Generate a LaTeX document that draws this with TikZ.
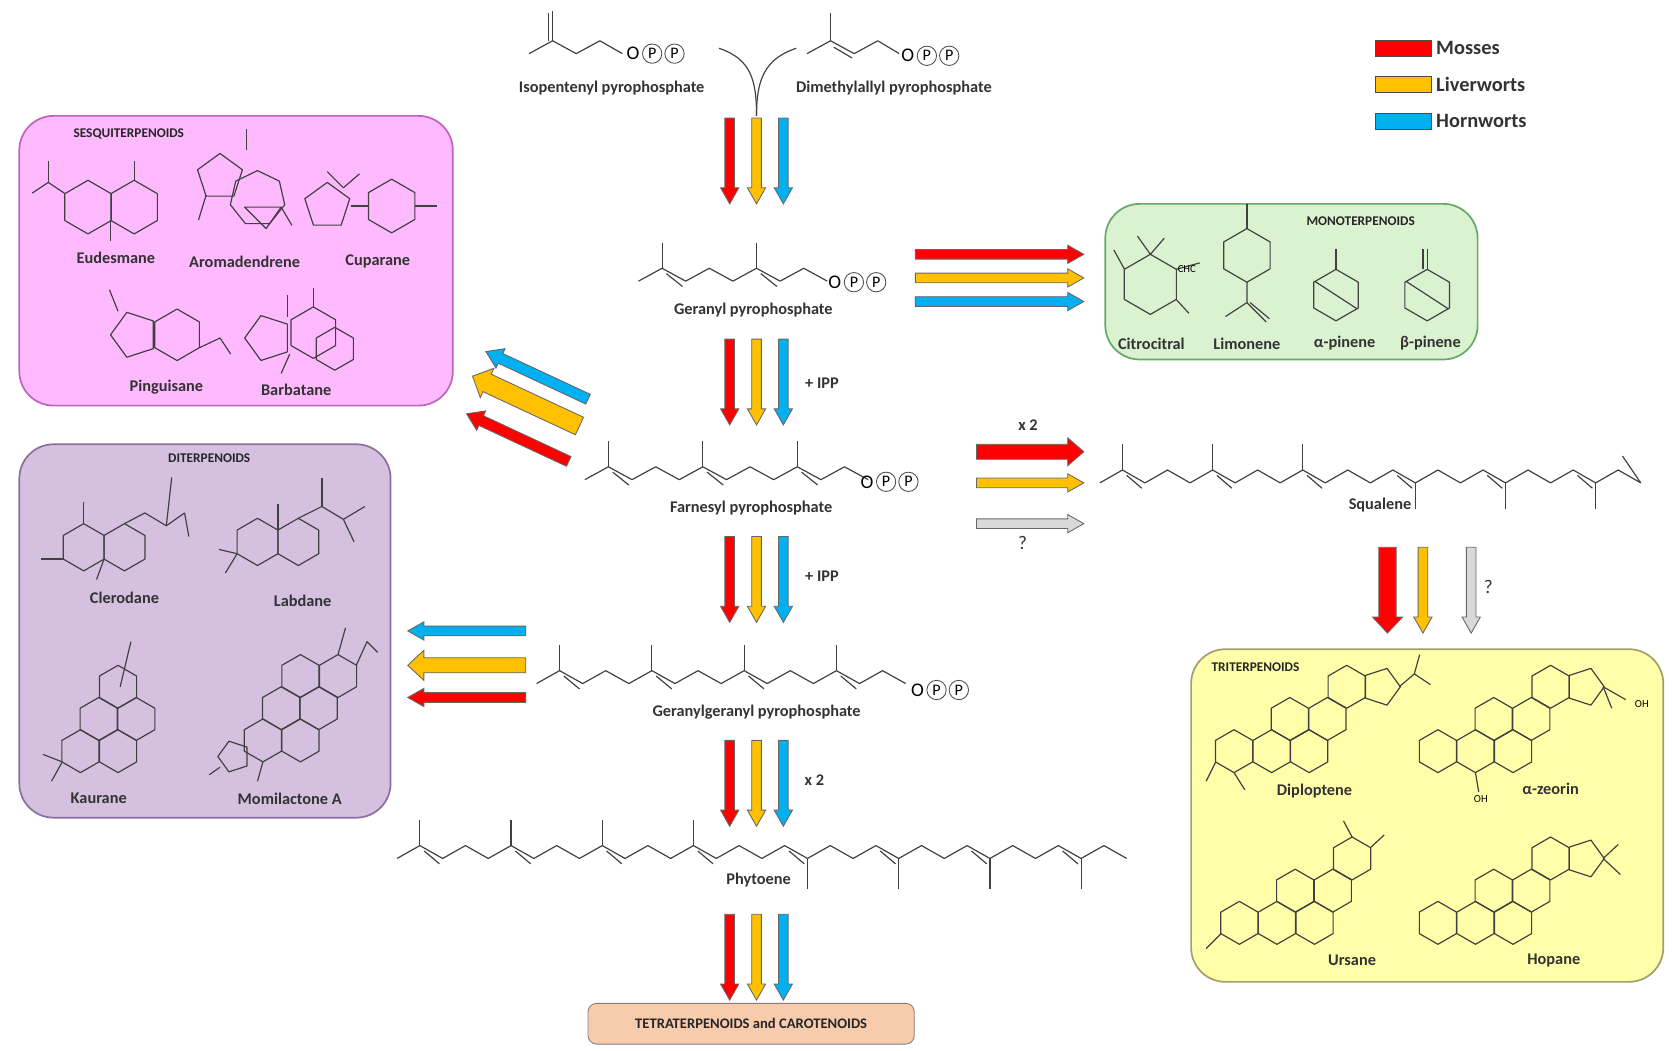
\documentclass[tikz,border=0pt]{standalone}
\usepackage{fontspec}
\setmainfont{Carlito}
\begin{document}
\definecolor{cR}{HTML}{FF0000}
\definecolor{cO}{HTML}{FFC000}
\definecolor{cB}{HTML}{00B0F0}
\definecolor{cG}{HTML}{D9D9D9}
\begin{tikzpicture}[x=0.5pt,y=-0.5pt,
  mol/.style={draw=black!75,line width=0.55pt,line join=round},
  lbl/.style={font=\fontsize{7.6}{9}\selectfont\bfseries,text=black!80,inner sep=0pt},
  ttl/.style={font=\fontsize{6.2}{8}\selectfont\bfseries,text=black!85,inner sep=0pt},
  box/.style={rounded corners=16pt,line width=0.8pt},
  pc/.style={circle,draw=black!70,inner sep=0pt,minimum size=9pt,font=\fontsize{7.5}{8}\selectfont}]
\useasboundingbox (0,0) rectangle (1560,978.6);
\newcommand\barrow[6]{\begin{scope}[shift={(#1)},rotate=#2]
 \filldraw[fill=#6,draw=black!60,line width=0.4pt] (0,{-#4/2}) -- ({#3-15},{-#4/2}) -- ({#3-15},{-#5/2}) -- (#3,0) -- ({#3-15},{#5/2}) -- ({#3-15},{#4/2}) -- (0,{#4/2}) -- cycle;\end{scope}}
\newcommand\trid[3]{%
 \barrow{#1-25,#2}{-90}{#3}{9}{17}{cR}\barrow{#1,#2}{-90}{#3}{9}{17}{cO}\barrow{#1+25,#2}{-90}{#3}{9}{17}{cB}}
\newcommand\chain[6]{%
 \draw[mol] plot[samples at={0,...,#3},variable=\i] ({#1+\i*#4},{#2-12*mod(\i,2)});
 \foreach \k in {#5} {\draw[mol] ({#1+\k*#4},{#2-12}) -- ++(0,-24);}
 \foreach \k in {#6} {\draw[mol] ({#1+\k*#4+4},{#2-12+5}) -- ({#1+\k*#4+#4-3},{#2+5});}}
\newcommand\ngon[4]{\draw[mol,shift={(#1)}] plot[samples at={0,...,#3},variable=\t] ({#2*cos(#4+360*\t/#3)},{#2*sin(#4+360*\t/#3)}) -- cycle;}
\newcommand\hx[2]{\ngon{#1}{#2}{6}{90}}
\newcommand\opp[2]{\node[font=\fontsize{9}{10}\selectfont,inner sep=0pt] (#2o) at (#1) {O};
 \node[pc,right=1pt] (#2p1) at (#2o.east) {P};\node[pc,right=1pt] (#2p2) at (#2p1.east) {P};}
% ---------- precursors
\draw[mol] (493,50) -- (515,38) -- (537,50) -- (559,38) -- (580,50);
\draw[mol] (515,38) -- (515,10); \draw[mol] (511,38) -- (511,12);
\opp{590,50}{ip}
\node[lbl] (ipl) at (570,82) {Isopentenyl pyrophosphate};
\draw[mol] (752,50) -- (774,38) -- (796,50) -- (818,38) -- (838,50);
\draw[mol] (774,38) -- (774,12);
\draw[mol] (777,44) -- (794,54);
\opp{846,52}{dm}
\node[lbl] (dml) at (833,82) {Dimethylallyl pyrophosphate};
\coordinate (mrg) at (705,108);
\draw[mol] (670,45) .. controls (700,55) and (705,75) .. (mrg);
\draw[mol] (742,45) .. controls (712,55) and (705,75) .. (mrg);
\trid{705}{110}{80}
% ---------- geranyl
\chain{595}{262}{8}{22}{1,5}{1,5}
\opp{778,263}{gp}
\node[lbl] (gpl) at (702,289) {Geranyl pyrophosphate};
\barrow{853,237}{0}{157}{9}{17}{cR}\barrow{853,259}{0}{157}{9}{17}{cO}\barrow{853,281}{0}{157}{9}{17}{cB}
\trid{705}{316}{80}
\node[lbl] (ipp1) at (766,357) {+ IPP};
% ---------- farnesyl
\chain{545}{447}{12}{22}{1,5,9}{1,5,9}
\opp{808,449}{fp}
\node[lbl] (fpl) at (700,473) {Farnesyl pyrophosphate};
\barrow{548,372}{155}{105}{10}{20}{cB}
\barrow{540,397}{155}{110}{18}{30}{cO}
\barrow{530,430}{155}{105}{10}{20}{cR}
\barrow{910,421}{0}{100}{14}{26}{cR}
\barrow{910,450}{0}{100}{9}{17}{cO}
\barrow{910,488}{0}{100}{9}{17}{cG}
\node[lbl] (x2a) at (958,396) {x 2};
\node[lbl,font=\fontsize{9}{10}\selectfont] (q1) at (953,506) {?};
% ---------- squalene
\chain{1025}{450}{24}{21}{1,5,9}{1,5,9,13,17,21}
\foreach \k in {14,18,22} {\draw[mol] ({1025+\k*21},450) -- ++(0,24);}
\draw[mol] (1529,450) -- (1512,425);
\node[lbl] (sql) at (1286,471) {Squalene};
\barrow{1293,510}{-90}{80}{16}{28}{cR}
\barrow{1326,510}{-90}{80}{9}{17}{cO}
\barrow{1371,510}{-90}{80}{9}{17}{cG}
\node[lbl,font=\fontsize{9}{10}\selectfont] (q2) at (1387,547) {?};
% ---------- GGPP
\trid{705}{500}{80}
\node[lbl] (ipp2) at (766,537) {+ IPP};
\chain{500}{637}{16}{21.5}{1,5,9,13}{1,5,9,13}
\opp{855,643}{gg}
\node[lbl] (ggl) at (705,664) {Geranylgeranyl pyrophosphate};
\barrow{490,588}{180}{110}{9}{17}{cB}
\barrow{490,620}{180}{110}{14}{28}{cO}
\barrow{490,650}{180}{110}{9}{17}{cR}
\trid{705}{690}{80}
\node[lbl] (x2b) at (759,727) {x 2};
% ---------- phytoene
\chain{370}{800}{32}{21.25}{1,5,9,13}{1,5,9,13,17,21,25,29}
\foreach \k in {18,22,26,30} {\draw[mol] ({370+\k*21.25},800) -- ++(0,28);}
\node[lbl] (phl) at (707,820) {Phytoene};
\trid{705}{852}{80}
\node[draw=black!50,fill={rgb,255:red,248;green,203;blue,173},rounded corners=4pt,minimum width=152pt,minimum height=19pt,ttl,font=\fontsize{6.8}{8}\selectfont\bfseries] (tet) at (700,954) {TETRATERPENOIDS and CAROTENOIDS};
% ---------- legend
\node[draw=black!70,fill=cR,minimum width=26pt,minimum height=7.5pt,inner sep=0pt] (lr) at (1308,45) {};
\node[draw=black!70,fill=cO,minimum width=26pt,minimum height=7.5pt,inner sep=0pt] (lo) at (1308,79) {};
\node[draw=black!70,fill=cB,minimum width=26pt,minimum height=7.5pt,inner sep=0pt] (lb) at (1308,113) {};
\node[lbl,anchor=west,font=\fontsize{9.5}{10}\selectfont\bfseries] at (1338,45) {Mosses};
\node[lbl,anchor=west,font=\fontsize{9.5}{10}\selectfont\bfseries] at (1338,79) {Liverworts};
\node[lbl,anchor=west,font=\fontsize{9.5}{10}\selectfont\bfseries] at (1338,113) {Hornworts};
% ---------- sesquiterpenoids
\draw[box,fill={rgb,255:red,255;green,185;blue,255},draw={rgb,255:red,190;green,100;blue,190}] (18,108) rectangle (422,378);
\node[ttl] at (120,125) {SESQUITERPENOIDS};
\hx{82,193}{25}\hx{125,193}{25}
\draw[mol] (60,180) -- (45,170) -- (30,180); \draw[mol] (45,170) -- (45,150);
\draw[mol] (125,168) -- (125,150); \draw[mol] (103,205) -- (103,225);
\node[lbl] at (108,240) {Eudesmane};
\ngon{205,165}{22}{5}{-90}\ngon{240,185}{26}{7}{-90}
\draw[mol] (228,193) -- (262,193) -- (248,213) -- cycle; \draw[mol] (262,193) -- (272,210);
\draw[mol] (230,140) -- (230,120); \draw[mol] (192,182) -- (185,205);
\node[lbl] at (228,244) {Aromadendrene};
\ngon{305,192}{22}{5}{-90}\hx{365,192}{25}
\draw[mol] (320,175) -- (305,160); \draw[mol] (320,175) -- (335,162);
\draw[mol] (327,192) -- (343,192); \draw[mol] (387,192) -- (407,192);
\node[lbl] at (352,244) {Cuparane};
\ngon{125,312}{22}{5}{180}\hx{165,312}{24}
\draw[mol] (110,290) -- (102,270); \draw[mol] (186,324) -- (205,315) -- (215,330);
\node[lbl] at (155,361) {Pinguisane};
\ngon{250,315}{22}{5}{180}\hx{292,310}{24}\hx{312,325}{20}
\draw[mol] (268,295) -- (268,275); \draw[mol] (292,286) -- (292,268); \draw[mol] (270,330) -- (262,348);
\node[lbl] at (276,363) {Barbatane};
% ---------- monoterpenoids
\draw[box,fill={rgb,255:red,218;green,242;blue,208},draw={rgb,255:red,100;green,170;blue,100}] (1030,190) rectangle (1377,335);
\node[ttl] at (1268,206) {MONOTERPENOIDS};
\hx{1072,265}{28}
\draw[mol] (1096,251) -- (1118,245); \draw[mol] (1096,279) -- (1108,292);
\draw[mol] (1048,251) -- (1038,233); \draw[mol] (1072,237) -- (1060,220); \draw[mol] (1072,237) -- (1085,222);
\node[font=\tiny\rmfamily,inner sep=0pt] at (1106,251) {CHC};
\node[lbl] at (1073,320) {Citrocitral};
\hx{1162,238}{25}
\draw[mol] (1162,213) -- (1162,190); \draw[mol] (1162,263) -- (1162,282) -- (1142,295); \draw[mol] (1162,282) -- (1180,300); \draw[mol] (1165,282) -- (1183,297);
\node[lbl] at (1162,320) {Limonene};
\hx{1245,275}{24}\draw[mol] (1225,262) -- (1265,288); \draw[mol] (1245,251) -- (1245,232);
\node[lbl] at (1253,320) {α-pinene};
\hx{1330,275}{24}\draw[mol] (1310,262) -- (1350,288); \draw[mol] (1330,251) -- (1330,232); \draw[mol] (1326,251) -- (1326,232);
\node[lbl] at (1333,320) {β-pinene};
% ---------- diterpenoids
\draw[box,fill={rgb,255:red,213;green,192;blue,224},draw={rgb,255:red,140;green,110;blue,160}] (18,414) rectangle (364,762);
\node[ttl] at (195,427) {DITERPENOIDS};
\hx{78,510}{22}\hx{116,510}{22}
\draw[mol] (116,488) -- (135,478) -- (155,490) -- (172,478); \draw[mol] (155,490) -- (160,445); \draw[mol] (172,478) -- (176,500);
\draw[mol] (59,521) -- (38,521); \draw[mol] (97,521) -- (90,540); \draw[mol] (78,488) -- (78,468);
\node[lbl] at (116,557) {Clerodane};
\hx{240,505}{22}\hx{278,505}{22}
\draw[mol] (278,483) -- (300,472) -- (320,484) -- (340,472); \draw[mol] (320,484) -- (330,505); \draw[mol] (300,472) -- (300,445);
\draw[mol] (221,516) -- (204,512); \draw[mol] (221,516) -- (210,534); \draw[mol] (259,494) -- (259,470);
\node[lbl] at (282,560) {Labdane};
\hx{75,700}{20}\hx{110,700}{20}\hx{92,670}{20}\hx{110,640}{20}\hx{127,670}{20}
\draw[mol] (112,640) -- (122,598); \draw[mol] (58,710) -- (40,703); \draw[mol] (58,710) -- (48,728);
\node[lbl] at (92,744) {Kaurane};
\hx{245,690}{20}\hx{262,660}{20}\hx{280,690}{20}\hx{297,660}{20}\hx{280,630}{20}\hx{315,630}{20}
\draw[mol] (315,610) -- (322,585); \draw[mol] (332,620) -- (342,598) -- (352,608);
\ngon{218,705}{15}{5}{180}\draw[mol] (205,715) -- (195,722); \draw[mol] (245,710) -- (240,728);
\node[lbl] at (270,744) {Momilactone A};
% ---------- triterpenoids
\draw[box,fill={rgb,255:red,255;green,255;blue,170},draw={rgb,255:red,160;green,160;blue,110}] (1110,605) rectangle (1550,915);
\node[ttl] at (1170,622) {TRITERPENOIDS};
\foreach \cx/\cy in {1150/700,1185/700,1202/670,1237/670,1220/700,1255/640} {\hx{\cx,\cy}{20}}
\ngon{1287,640}{18}{5}{0}
\draw[mol] (1304,640) -- (1318,628) -- (1333,638); \draw[mol] (1318,628) -- (1323,610);
\draw[mol] (1133,710) -- (1124,728); \draw[mol] (1150,720) -- (1160,736);
\node[lbl] at (1225,737) {Diploptene};
\foreach \cx/\cy in {1340/700,1375/700,1392/670,1427/670,1410/700,1445/640} {\hx{\cx,\cy}{20}}
\ngon{1477,640}{18}{5}{0}
\draw[mol] (1494,640) -- (1502,660); \draw[mol] (1494,640) -- (1515,652);
\node[font=\tiny\rmfamily,inner sep=0pt] at (1530,656) {OH};
\draw[mol] (1375,720) -- (1378,738);
\node[font=\tiny\rmfamily,inner sep=0pt] at (1380,745) {OH};
\node[lbl] at (1445,735) {α-zeorin};
\foreach \cx/\cy in {1155/860,1190/860,1207/830,1242/830,1225/860,1260/800} {\hx{\cx,\cy}{20}}
\draw[mol] (1260,780) -- (1252,765); \draw[mol] (1277,790) -- (1290,778);
\draw[mol] (1138,870) -- (1124,884);
\node[lbl] at (1260,895) {Ursane};
\foreach \cx/\cy in {1340/860,1375/860,1392/830,1427/830,1410/860,1445/800} {\hx{\cx,\cy}{20}}
\ngon{1477,800}{18}{5}{0}
\draw[mol] (1494,800) -- (1508,787); \draw[mol] (1494,800) -- (1510,815);
\node[lbl] at (1448,895) {Hopane};
\end{tikzpicture}
\end{document}
